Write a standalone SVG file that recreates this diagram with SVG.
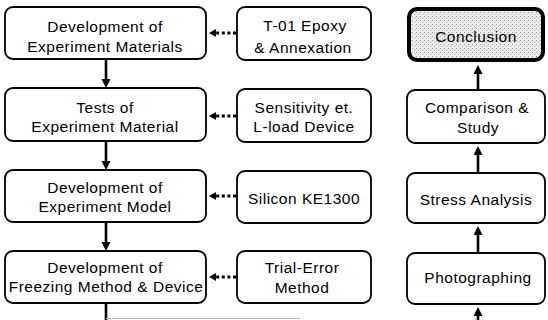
<svg xmlns="http://www.w3.org/2000/svg" width="548" height="320" viewBox="0 0 548 320">
<style>
  .box { fill: #ffffff; stroke: #000000; stroke-width: 1.8; }
  .concl { fill: url(#stip); stroke: #000000; stroke-width: 4; }
  text { font-family: "Liberation Sans", Arial, sans-serif; font-size: 15.5px; fill: #000000; text-anchor: middle; letter-spacing: 0.5px; }
  .solid { stroke: #000000; stroke-width: 2.6; fill: none; }
  .dotted { stroke: #000000; stroke-width: 3; stroke-dasharray: 3 2.6; fill: none; }
  .faint { stroke: #bdbdbd; stroke-width: 1.2; fill: none; }
</style>
<defs>
  <pattern id="stip" width="4" height="4" patternUnits="userSpaceOnUse">
    <rect width="4" height="4" fill="#eeeeee"/>
    <rect x="0" y="0" width="1" height="1" fill="#9a9a9a"/>
    <rect x="2" y="2" width="1" height="1" fill="#b5b5b5"/>
    <rect x="3" y="1" width="1" height="1" fill="#d0d0d0"/>
  </pattern>
  <marker id="arr" markerUnits="userSpaceOnUse" markerWidth="10" markerHeight="10" refX="1" refY="4.5" orient="auto">
    <path d="M0,0 L9,4.5 L0,9 z" fill="#000000"/>
  </marker>
  <marker id="arrS" markerUnits="userSpaceOnUse" markerWidth="9" markerHeight="9" refX="1" refY="4" orient="auto">
    <path d="M0,0 L7,4 L0,8 z" fill="#000000"/>
  </marker>
</defs>

<g id="connectors">
  <line class="solid" x1="106" y1="59" x2="106" y2="80" marker-end="url(#arr)"/>
  <line class="solid" x1="106" y1="141" x2="106" y2="162" marker-end="url(#arr)"/>
  <line class="solid" x1="106" y1="222" x2="106" y2="243" marker-end="url(#arr)"/>
  <line class="solid" x1="106" y1="303" x2="106" y2="320"/>
  <line class="faint" x1="106" y1="318.5" x2="300" y2="318.5"/>

  <line class="dotted" x1="236" y1="33" x2="215" y2="33" marker-end="url(#arrS)"/>
  <line class="dotted" x1="236" y1="116" x2="215" y2="116" marker-end="url(#arrS)"/>
  <line class="dotted" x1="236" y1="196" x2="215" y2="196" marker-end="url(#arrS)"/>
  <line class="dotted" x1="236" y1="277" x2="215" y2="277" marker-end="url(#arrS)"/>

  <line class="solid" x1="478" y1="320" x2="478" y2="315" marker-end="url(#arr)"/>
  <line class="solid" x1="478" y1="253" x2="478" y2="234" marker-end="url(#arr)"/>
  <line class="solid" x1="478" y1="173" x2="478" y2="154" marker-end="url(#arr)"/>
  <line class="solid" x1="478" y1="90" x2="478" y2="73" marker-end="url(#arr)"/>
</g>

<g id="dev-materials">
  <rect class="box" x="5" y="7" width="201" height="52" rx="8"/>
  <text x="105" y="32">Development of</text>
  <text x="105" y="52">Experiment Materials</text>
</g>
<g id="tests-material">
  <rect class="box" x="5" y="88" width="201" height="53" rx="8"/>
  <text x="105" y="113">Tests of</text>
  <text x="105" y="132">Experiment Material</text>
</g>
<g id="dev-model">
  <rect class="box" x="5" y="170" width="201" height="52" rx="8"/>
  <text x="105" y="193">Development of</text>
  <text x="105" y="212">Experiment Model</text>
</g>
<g id="dev-freezing">
  <rect class="box" x="5" y="251" width="201" height="52" rx="8"/>
  <text x="105" y="273">Development of</text>
  <text x="106" y="292">Freezing Method &amp; Device</text>
</g>

<g id="epoxy">
  <rect class="box" x="237" y="7" width="134" height="53" rx="8"/>
  <text x="305" y="31">T-01 Epoxy</text>
  <text x="303" y="53">&amp; Annexation</text>
</g>
<g id="sensitivity">
  <rect class="box" x="237" y="89" width="134" height="53" rx="8"/>
  <text x="304" y="113">Sensitivity et.</text>
  <text x="304" y="132">L-load Device</text>
</g>
<g id="silicon">
  <rect class="box" x="237" y="171" width="134" height="52" rx="8"/>
  <text x="304" y="204">Silicon KE1300</text>
</g>
<g id="trial-error">
  <rect class="box" x="237" y="251" width="134" height="52" rx="8"/>
  <text x="302" y="273">Trial-Error</text>
  <text x="302" y="293">Method</text>
</g>

<g id="conclusion">
  <rect class="concl" x="409" y="9" width="134" height="51" rx="8"/>
  <text x="476" y="42">Conclusion</text>
</g>
<g id="comparison">
  <rect class="box" x="407" y="90" width="138" height="53" rx="8"/>
  <text x="477" y="113">Comparison &amp;</text>
  <text x="478" y="133">Study</text>
</g>
<g id="stress">
  <rect class="box" x="407" y="173" width="138" height="50" rx="8"/>
  <text x="476" y="205">Stress Analysis</text>
</g>
<g id="photographing">
  <rect class="box" x="407" y="253" width="138" height="51" rx="8"/>
  <text x="478" y="283">Photographing</text>
</g>
</svg>
